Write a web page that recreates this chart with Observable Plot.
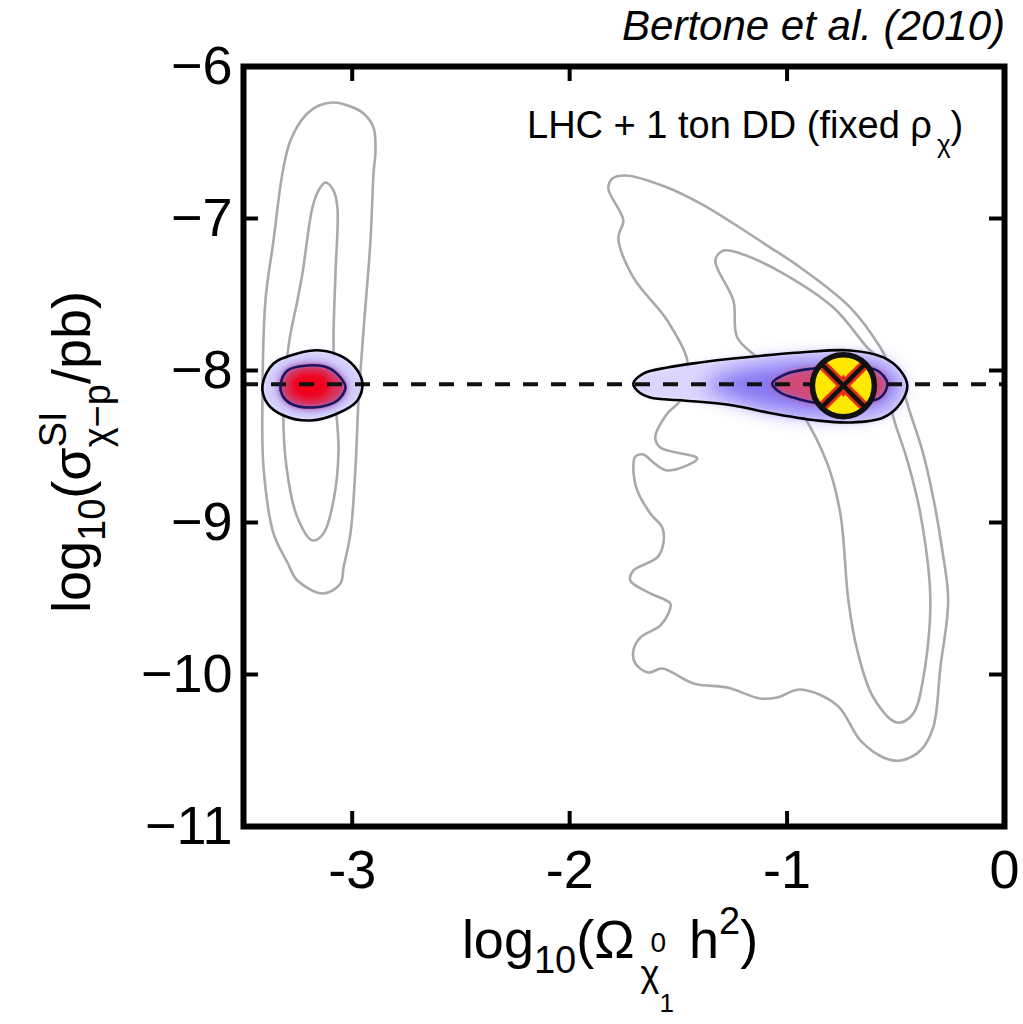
<!DOCTYPE html>
<html><head><meta charset="utf-8">
<script src="https://cdn.jsdelivr.net/npm/d3@7"></script>
<script src="https://cdn.jsdelivr.net/npm/@observablehq/plot@0.6"></script>
<style>
html,body{margin:0;padding:0;background:#fff;}
#chart svg{display:block;}
</style></head><body><div id="chart"></div>
<script>
// ---- data (log10 Omega h^2 , log10 sigma) ----
const xDomain = [-3.5, 0];
const yDomain = [-11, -6];
const xTicks = [-3, -2, -1, 0];
const xTickLabels = ["-3", "-2", "-1", "0"];
const yTicks = [-11, -10, -9, -8, -7, -6];
const yTickLabels = ["\u221211", "\u221210", "\u22129", "\u22128", "\u22127", "\u22126"];

const titleText = "Bertone et al. (2010)";
const annotMain = "LHC + 1 ton DD (fixed \u03c1";
const annotSub = "\u03c7";

const leftOuterGray = [[-3.086,-6.237],[-3.010,-6.262],[-2.948,-6.309],[-2.902,-6.401],[-2.893,-6.553],[-2.902,-6.704],[-2.916,-7.145],[-2.948,-7.737],[-2.971,-8.197],[-2.985,-8.638],[-3.008,-9.072],[-3.040,-9.296],[-3.054,-9.401],[-3.132,-9.467],[-3.252,-9.382],[-3.298,-9.263],[-3.362,-9.072],[-3.408,-8.638],[-3.413,-8.197],[-3.399,-7.539],[-3.362,-7.145],[-3.321,-6.704],[-3.284,-6.487],[-3.215,-6.322],[-3.150,-6.255]];
const leftInnerGray = [[-3.123,-6.763],[-3.086,-6.816],[-3.068,-6.928],[-3.077,-7.362],[-3.086,-7.803],[-3.077,-8.197],[-3.063,-8.526],[-3.086,-8.855],[-3.132,-9.072],[-3.183,-9.118],[-3.252,-8.967],[-3.302,-8.638],[-3.316,-8.197],[-3.289,-7.803],[-3.252,-7.539],[-3.229,-7.362],[-3.183,-6.928],[-3.155,-6.816]];
const rightOuterGray = [[-1.822,-6.803],[-1.803,-6.737],[-1.744,-6.717],[-1.551,-6.796],[-1.399,-6.901],[-1.247,-7.033],[-1.091,-7.178],[-0.939,-7.322],[-0.709,-7.586],[-0.571,-7.849],[-0.525,-7.980],[-0.470,-8.120],[-0.433,-8.283],[-0.378,-8.526],[-0.328,-8.836],[-0.286,-9.184],[-0.259,-9.513],[-0.295,-9.954],[-0.328,-10.349],[-0.387,-10.500],[-0.479,-10.566],[-0.557,-10.546],[-0.663,-10.434],[-0.769,-10.204],[-0.939,-10.099],[-1.045,-10.151],[-1.123,-10.158],[-1.275,-10.086],[-1.431,-10.059],[-1.574,-9.961],[-1.638,-9.987],[-1.698,-9.928],[-1.707,-9.842],[-1.675,-9.757],[-1.583,-9.678],[-1.546,-9.599],[-1.537,-9.533],[-1.629,-9.467],[-1.721,-9.382],[-1.707,-9.316],[-1.597,-9.230],[-1.569,-9.138],[-1.574,-9.033],[-1.629,-8.941],[-1.689,-8.789],[-1.707,-8.638],[-1.698,-8.566],[-1.661,-8.553],[-1.615,-8.605],[-1.551,-8.658],[-1.413,-8.579],[-1.583,-8.507],[-1.606,-8.441],[-1.551,-8.283],[-1.491,-8.197],[-1.470,-8.050],[-1.459,-7.934],[-1.551,-7.671],[-1.707,-7.388],[-1.776,-7.125],[-1.753,-7.013]];
const rightInnerGray = [[-1.293,-7.211],[-1.215,-7.230],[-1.017,-7.362],[-0.787,-7.586],[-0.631,-7.849],[-0.571,-7.934],[-0.540,-8.120],[-0.511,-8.309],[-0.447,-8.592],[-0.387,-8.941],[-0.341,-9.513],[-0.378,-10.059],[-0.420,-10.257],[-0.493,-10.316],[-0.603,-10.151],[-0.677,-9.842],[-0.718,-9.513],[-0.755,-8.941],[-0.815,-8.612],[-0.939,-8.263],[-1.030,-8.100],[-1.123,-7.934],[-1.229,-7.783],[-1.247,-7.539],[-1.330,-7.276]];

const leftBlobOuter = [[-3.413,-8.099],[-3.362,-7.954],[-3.252,-7.888],[-3.146,-7.868],[-3.040,-7.914],[-2.976,-8.000],[-2.953,-8.086],[-2.976,-8.197],[-3.068,-8.283],[-3.192,-8.329],[-3.316,-8.296],[-3.390,-8.217]];
const leftBlobInner = [[-3.330,-8.099],[-3.298,-8.000],[-3.206,-7.967],[-3.114,-7.980],[-3.054,-8.046],[-3.031,-8.112],[-3.068,-8.197],[-3.178,-8.243],[-3.284,-8.217],[-3.321,-8.164]];
const leftBlobCore = [[-3.284,-8.099],[-3.252,-8.033],[-3.192,-8.013],[-3.123,-8.039],[-3.100,-8.105],[-3.137,-8.171],[-3.201,-8.191],[-3.266,-8.158]];
const rightBlobOuter = [[-1.707,-8.086],[-1.661,-8.020],[-1.551,-7.980],[-1.399,-7.947],[-1.247,-7.921],[-0.939,-7.882],[-0.709,-7.868],[-0.557,-7.914],[-0.479,-8.000],[-0.447,-8.099],[-0.479,-8.217],[-0.557,-8.309],[-0.709,-8.342],[-0.861,-8.329],[-1.091,-8.276],[-1.247,-8.230],[-1.477,-8.197],[-1.629,-8.178],[-1.689,-8.132]];
const rightBlobMid = [[-1.376,-8.099],[-1.261,-8.013],[-1.077,-7.961],[-0.847,-7.934],[-0.617,-7.947],[-0.502,-8.033],[-0.489,-8.145],[-0.571,-8.250],[-0.801,-8.289],[-1.031,-8.263],[-1.215,-8.197]];
const rightBlobInner = [[-1.068,-8.086],[-0.999,-8.020],[-0.879,-7.987],[-0.709,-7.974],[-0.585,-8.000],[-0.539,-8.086],[-0.571,-8.178],[-0.709,-8.217],[-0.879,-8.211],[-0.971,-8.178],[-1.031,-8.145]];

const markerX = [-0.741];
const markerY = [-8.10];
const dashedY = [-8.09];

// ---- layout ----
const W = 1023, H = 1024, mL = 243, mR = 19, mT = 66, mB = 198;
const plotW = W - mL - mR, plotH = H - mT - mB;
const tickLen = 15;
const tlX = tickLen * (xDomain[1] - xDomain[0]) / plotW;
const tlY = tickLen * (yDomain[1] - yDomain[0]) / plotH;
const FONT = "'Liberation Sans', Arial, Helvetica, sans-serif";

function blur(id) {
  return (index, scales, values, dims, ctx, next) => {
    const g = next(index, scales, values, dims, ctx);
    if (g) g.setAttribute("filter", `url(#${id})`);
    return g;
  };
}
const poly = (arr, opts) => Plot.line(arr, {x: d => d[0], y: d => d[1], curve: "catmull-rom-closed", ...opts});
const gray = {stroke: "#a9a9a9", strokeWidth: 2.6};
const markerData = markerX.map((x, i) => ({x, y: markerY[i]}));

const plot = Plot.plot({
  width: W, height: H,
  marginLeft: mL, marginRight: mR, marginTop: mT, marginBottom: mB,
  x: {domain: xDomain, axis: null},
  y: {domain: yDomain, axis: null},
  style: {background: "white", fontFamily: FONT, color: "#000", overflow: "visible"},
  marks: [
    poly(leftOuterGray, gray),
    poly(leftInnerGray, gray),
    poly(rightOuterGray, gray),
    poly(rightInnerGray, gray),
    poly(leftBlobOuter, {fill: "#d6d0fd", stroke: "none", render: blur("b2")}),
    poly(leftBlobInner, {fill: "#7a64ef", stroke: "none", render: blur("b6")}),
    poly(leftBlobInner, {fill: "#d8305a", stroke: "none", render: blur("b3")}),
    poly(leftBlobCore, {fill: "#f0001a", stroke: "none", render: blur("b3")}),
    poly(rightBlobOuter, {fill: "#dcd6ff", stroke: "none", render: blur("b2")}),
    poly(rightBlobMid, {fill: "#8676f2", stroke: "none", render: blur("b10")}),
    poly(rightBlobInner, {fill: "#d04a78", stroke: "none", render: blur("b3")}),
    Plot.ruleY(dashedY, {y: d => d, stroke: "#111", strokeWidth: 4, strokeDasharray: "15,13"}),
    poly(leftBlobOuter, {stroke: "#000", strokeWidth: 2.6}),
    poly(leftBlobInner, {stroke: "#1b1560", strokeWidth: 2.6}),
    poly(rightBlobOuter, {stroke: "#000", strokeWidth: 2.6}),
    poly(rightBlobInner, {stroke: "#1b1560", strokeWidth: 2.6}),
    Plot.dot(markerData, {x: "x", y: "y", r: 31, fill: "#ffe800", stroke: "none"}),
    Plot.dot(markerData, {x: "x", y: "y", symbol: "diamond", r: 7, fill: "#e8201a", stroke: "none"}),
    Plot.dot(markerData, {x: "x", y: "y", symbol: "times", r: 20, stroke: "#e0301a", strokeWidth: 10}),
    Plot.dot(markerData, {x: "x", y: "y", symbol: "times", r: 20, stroke: "#111", strokeWidth: 4.5}),
    Plot.dot(markerData, {x: "x", y: "y", r: 31, fill: "none", stroke: "#111", strokeWidth: 5.5}),
    Plot.frame({stroke: "#000", strokeWidth: 6}),
    Plot.ruleX(xTicks, {x: d => d, y1: yDomain[0], y2: yDomain[0] + tlY, stroke: "#000", strokeWidth: 4}),
    Plot.ruleX(xTicks, {x: d => d, y1: yDomain[1], y2: yDomain[1] - tlY, stroke: "#000", strokeWidth: 4}),
    Plot.ruleY(yTicks, {y: d => d, x1: xDomain[0], x2: xDomain[0] + tlX, stroke: "#000", strokeWidth: 4}),
    Plot.ruleY(yTicks, {y: d => d, x1: xDomain[1], x2: xDomain[1] - tlX, stroke: "#000", strokeWidth: 4}),
    Plot.text(xTicks, {x: d => d, y: yDomain[0], text: (d, i) => xTickLabels[i], dy: 44, fontSize: 54, fill: "#000"}),
    Plot.text(yTicks, {x: xDomain[0], y: d => d, text: (d, i) => yTickLabels[i], textAnchor: "end", dx: -11, fontSize: 54, fill: "#000"})
  ]
});
document.getElementById("chart").append(plot);

const svg = d3.select(plot);
const defs = svg.insert("defs", ":first-child");
[["b2", 2], ["b3", 3], ["b6", 6], ["b10", 10]].forEach(([id, s]) => {
  defs.append("filter").attr("id", id)
    .attr("x", "-60%").attr("y", "-60%").attr("width", "220%").attr("height", "220%")
    .append("feGaussianBlur").attr("stdDeviation", s);
});

// title
svg.append("text").attr("x", 1005).attr("y", 40).attr("text-anchor", "end")
  .attr("font-family", FONT).attr("font-style", "italic").attr("font-size", 42)
  .attr("fill", "#000").text(titleText);

// annotation
const ann = svg.append("text").attr("x", 527).attr("y", 138).attr("text-anchor", "start")
  .attr("font-family", FONT).attr("font-size", 38).attr("fill", "#000");
ann.append("tspan").text(annotMain);
ann.append("tspan").attr("font-size", 26).attr("dx", 5).attr("dy", 15).text(annotSub);
ann.append("tspan").attr("dy", -15).text(")");

// x label
const xl = svg.append("text").attr("x", 610).attr("y", 958).attr("text-anchor", "middle")
  .attr("font-family", FONT).attr("font-size", 54).attr("fill", "#000");
xl.append("tspan").text("log");
xl.append("tspan").attr("font-size", 38).attr("dy", 15).text("10");
xl.append("tspan").attr("dy", -15).text("(\u03a9");
const xz = xl.append("tspan").attr("font-size", 28).attr("dy", -6).attr("dx", 16).text("0");
const zl = xz.node().getComputedTextLength();
xl.append("tspan").attr("font-size", 36).attr("dx", -(zl + 10)).attr("dy", 34).text("\u03c7");
xl.append("tspan").attr("font-size", 26).attr("dy", 26).text("1");
xl.append("tspan").attr("dy", -54).text(" h");
xl.append("tspan").attr("font-size", 38).attr("dy", -24).text("2");
xl.append("tspan").attr("dy", 24).text(")");

// y label
const yl = svg.append("text").attr("transform", "translate(90,452) rotate(-90)").attr("text-anchor", "middle")
  .attr("font-family", FONT).attr("font-size", 54).attr("fill", "#000");
yl.append("tspan").text("log");
yl.append("tspan").attr("font-size", 38).attr("dy", 15).text("10");
yl.append("tspan").attr("dy", -15).text("(\u03c3");
const si = yl.append("tspan").attr("font-size", 38).attr("dy", -24).text("SI");
const sil = si.node().getComputedTextLength();
yl.append("tspan").attr("font-size", 38).attr("dx", -sil).attr("dy", 44).text("\u03c7\u2212p");
yl.append("tspan").attr("dy", -20).text("/pb)");
</script>
</body></html>
